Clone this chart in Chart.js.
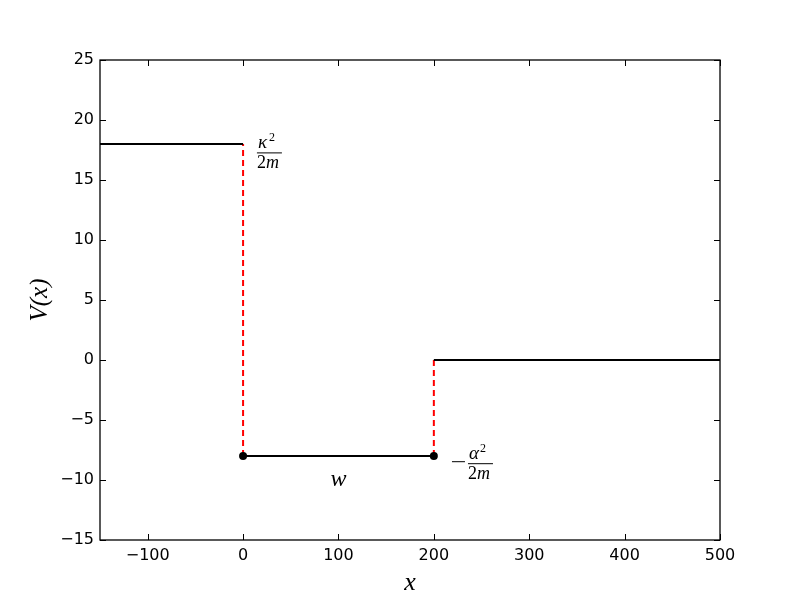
<!DOCTYPE html>
<html lang="en">
<head>
  <meta charset="UTF-8" />
  <title>Square well potential</title>
  <script src="https://cdn.jsdelivr.net/npm/chart.js@4"></script>
  <style>
    body { margin: 0; background: #fff; }
    #wrap { width: 800px; height: 600px; }
  </style>
</head>
<body>
  <div id="wrap"><canvas id="wellChart" width="800" height="600"></canvas></div>

  <script>
    // potential pieces (x, V)
    const leftX = [-150, 0];
    const leftV = [18, 18];
    const wellX = [0, 200];
    const wellV = [-8, -8];
    const rightX = [200, 500];
    const rightV = [0, 0];
    const wallLeftX = [0, 0];
    const wallLeftV = [-8, 18];
    const wallRightX = [200, 200];
    const wallRightV = [-8, 0];

    const xTicks = [-100, 0, 100, 200, 300, 400, 500];
    const yTicks = [-15, -10, -5, 0, 5, 10, 15, 20, 25];

    const pts = (xs, ys) => xs.map((x, i) => ({ x, y: ys[i] }));
    const fmt = v => (v < 0 ? '\u2212' + Math.abs(v) : String(v));
    const mathFont = size => 'italic ' + size + 'px "Liberation Serif", "DejaVu Serif", serif';
    const romanFont = size => size + 'px "Liberation Serif", "DejaVu Serif", serif';

    // draw a little fraction: numerator over 2m
    const drawFrac = (ctx, left, barY, sym, withMinus) => {
      ctx.save();
      ctx.fillStyle = '#000';
      ctx.strokeStyle = '#000';
      let x = left;
      if (withMinus) {
        ctx.lineWidth = 1;
        ctx.beginPath();
        ctx.moveTo(x, barY - 1.5);
        ctx.lineTo(x + 13, barY - 1.5);
        ctx.stroke();
        x += 16;
      }
      const w = 25;
      ctx.lineWidth = 1;
      ctx.beginPath();
      ctx.moveTo(x, barY + 0.5);
      ctx.lineTo(x + w, barY + 0.5);
      ctx.stroke();
      ctx.textBaseline = 'alphabetic';
      ctx.textAlign = 'left';
      ctx.font = mathFont(19);
      ctx.fillText(sym, x + 1, barY - 4);
      ctx.font = romanFont(12);
      ctx.fillText('2', x + 12, barY - 11);
      ctx.font = romanFont(18);
      ctx.fillText('2', x, barY + 16);
      ctx.font = mathFont(18);
      ctx.fillText('m', x + 9, barY + 16);
      ctx.restore();
    };

    const framePlugin = {
      id: 'frame',
      afterDraw(chart) {
        const { ctx, chartArea: a, scales } = chart;
        const sx = scales.x, sy = scales.y;
        ctx.save();
        ctx.strokeStyle = '#000';
        ctx.lineWidth = 1.3;
        ctx.strokeRect(a.left, a.top, a.right - a.left, a.bottom - a.top);
        ctx.lineWidth = 1;
        ctx.beginPath();
        xTicks.forEach(v => {
          const p = Math.round(sx.getPixelForValue(v)) + 0.5;
          ctx.moveTo(p, a.bottom); ctx.lineTo(p, a.bottom - 6);
          ctx.moveTo(p, a.top); ctx.lineTo(p, a.top + 6);
        });
        yTicks.forEach(v => {
          const p = Math.round(sy.getPixelForValue(v)) + 0.5;
          ctx.moveTo(a.left, p); ctx.lineTo(a.left + 6, p);
          ctx.moveTo(a.right, p); ctx.lineTo(a.right - 6, p);
        });
        ctx.stroke();

        // axis titles
        ctx.fillStyle = '#000';
        ctx.textAlign = 'center';
        ctx.textBaseline = 'middle';
        ctx.font = mathFont(26);
        ctx.fillText('x', (a.left + a.right) / 2, 583);
        ctx.save();
        ctx.translate(40, (a.top + a.bottom) / 2);
        ctx.rotate(-Math.PI / 2);
        ctx.font = mathFont(25);
        ctx.fillText('V(x)', 0, 0);
        ctx.restore();

        // annotations
        ctx.font = mathFont(24);
        ctx.fillText('w', sx.getPixelForValue(100), sy.getPixelForValue(-10));
        drawFrac(ctx, sx.getPixelForValue(14.5), sy.getPixelForValue(17.3), '\u03ba', false);
        drawFrac(ctx, sx.getPixelForValue(219), sy.getPixelForValue(-8.6), '\u03b1', true);
        ctx.restore();
      }
    };

    new Chart(document.getElementById('wellChart'), {
      type: 'scatter',
      data: {
        datasets: [
          { data: pts(wellX, wellV), showLine: true, borderColor: '#000', borderWidth: 2,
            pointRadius: 4, pointBackgroundColor: '#000', pointBorderWidth: 0 },
          { data: pts(leftX, leftV), showLine: true, borderColor: '#000', borderWidth: 2, pointRadius: 0 },
          { data: pts(rightX, rightV), showLine: true, borderColor: '#000', borderWidth: 2, pointRadius: 0 },
          { data: pts(wallLeftX, wallLeftV), showLine: true, borderColor: '#ff0000', borderWidth: 2,
            borderDash: [6, 4], pointRadius: 0 },
          { data: pts(wallRightX, wallRightV), showLine: true, borderColor: '#ff0000', borderWidth: 2,
            borderDash: [6, 4], pointRadius: 0 }
        ]
      },
      options: {
        responsive: false,
        animation: false,
        layout: { padding: { left: 0, right: 80, top: 60, bottom: 0 } },
        plugins: { legend: { display: false }, tooltip: { enabled: false } },
        scales: {
          x: {
            type: 'linear', min: -150, max: 500,
            afterBuildTicks: s => { s.ticks = xTicks.map(v => ({ value: v })); },
            afterFit: s => { s.height = 60; },
            grid: { display: false, drawTicks: false }, border: { display: false },
            ticks: { padding: 6, maxRotation: 0, color: '#000', callback: fmt,
                     font: { family: 'DejaVu Sans', size: 16 } }
          },
          y: {
            type: 'linear', min: -15, max: 25,
            afterBuildTicks: s => { s.ticks = yTicks.map(v => ({ value: v })); },
            afterFit: s => { s.width = 100; },
            grid: { display: false, drawTicks: false }, border: { display: false },
            ticks: { padding: 6, color: '#000', callback: fmt,
                     font: { family: 'DejaVu Sans', size: 16 } }
          }
        }
      },
      plugins: [framePlugin]
    });
  </script>
</body>
</html>
